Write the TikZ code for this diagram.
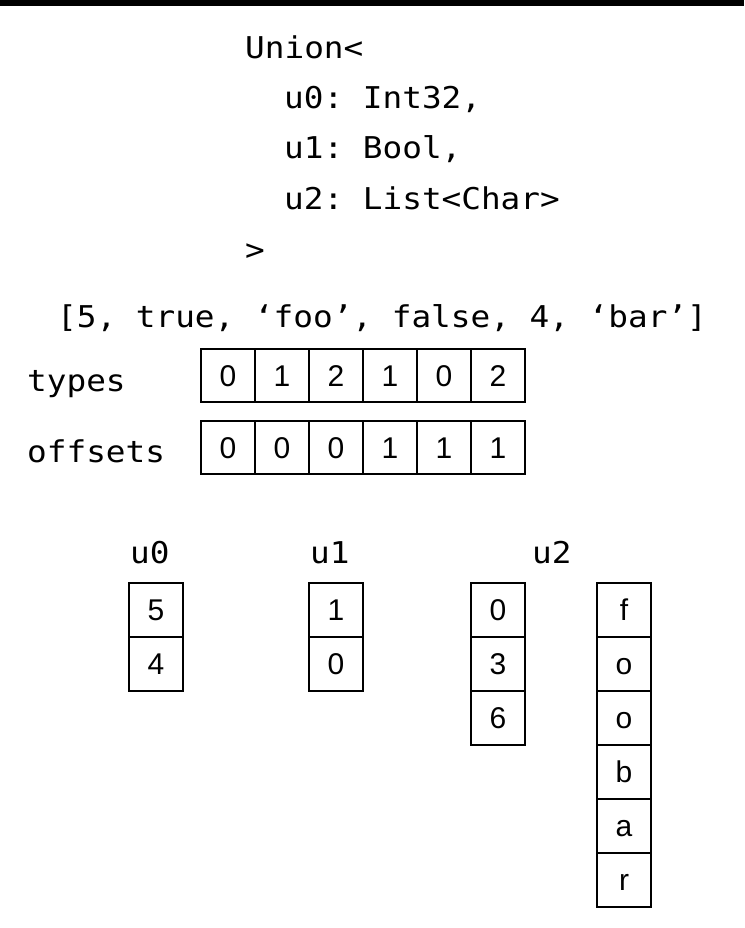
\documentclass[tikz,border=0pt]{standalone}
\usepackage{fontspec}
\newfontfamily\codefont[FakeStretch=1.09]{DejaVu Sans Mono}
\newfontfamily\cellfont{Liberation Sans}
\tikzset{
  code/.style={font=\codefont\fontsize{30}{32}\selectfont\frenchspacing, anchor=base west, inner sep=0pt},
  cell/.style={draw, line width=2pt, minimum width=54pt, minimum height=54pt, inner sep=0pt,
    text height=21.5pt, text depth=0pt, font=\cellfont\fontsize{30}{32}\selectfont, anchor=north west},
}
\begin{document}
\begin{tikzpicture}[x=1pt,y=-1pt]
\useasboundingbox (0,0) rectangle (744,928);
\fill[black] (0,0) rectangle (744,6);
% type declaration
\node[code] (l1) at (245,59) {Union<};
\node[code] (l2) at (284,109) {u0: Int32,};
\node[code] (l3) at (284,159) {u1: Bool,};
\node[code] (l4) at (284,209) {u2: List<Char>};
\node[code] (l5) at (245,260) {>};
\node[code] (arr) at (57,327) {[5, true, ‘foo’, false, 4, ‘bar’]};
% buffers
\node[code] (typeslbl) at (27,391) {types};
\node[code] (offlbl) at (27,462) {offsets};
\foreach \v [count=\i from 0] in {0,1,2,1,0,2}
  \node[cell, minimum height=53pt] (t\i) at (200+54*\i,348) {\v};
\foreach \v [count=\i from 0] in {0,0,0,1,1,1}
  \node[cell, minimum height=53pt] (o\i) at (200+54*\i,420) {\v};
% children
\node[code] (u0lbl) at (130,563) {u0};
\node[code] (u1lbl) at (310,563) {u1};
\node[code] (u2lbl) at (532,563) {u2};
\foreach \v [count=\i from 0] in {5,4}
  \node[cell] (a\i) at (128,582+54*\i) {\v};
\foreach \v [count=\i from 0] in {1,0}
  \node[cell] (b\i) at (308,582+54*\i) {\v};
\foreach \v [count=\i from 0] in {0,3,6}
  \node[cell] (c\i) at (470,582+54*\i) {\v};
\foreach \v [count=\i from 0] in {f,o,o,b,a,r}
  \node[cell] (d\i) at (596,582+54*\i) {\v};
\end{tikzpicture}
\end{document}
